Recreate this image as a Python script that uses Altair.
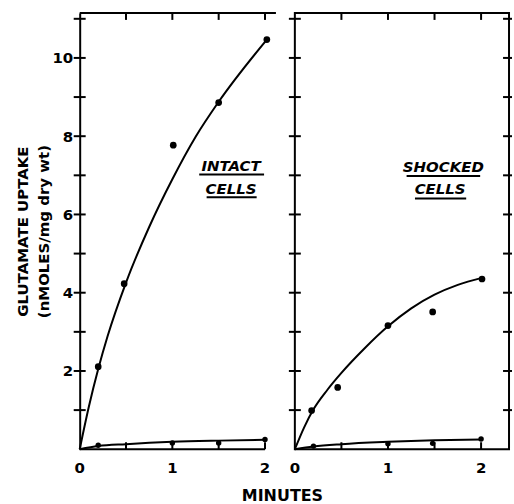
import altair as alt
import pandas as pd

FONT = "DejaVu Sans"

# ---------------- data ----------------
minute_labels = [0, 1, 2]
minute_ticks = [0.5, 1, 1.5, 2]
uptake_labels = [2, 4, 6, 8, 10]
uptake_ticks = [1, 2, 3, 4, 5, 6, 7, 8, 9, 10, 11]

# Intact cells
intact_pt_x = [0.2, 0.48, 1.01, 1.5, 2.02]
intact_pt_y = [2.11, 4.23, 7.77, 8.86, 10.47]
intact_curve_x = [0, 0.1, 0.2, 0.3, 0.5, 0.75, 1.0, 1.25, 1.5, 2.02]
intact_curve_y = [0, 1.1, 2.05, 2.88, 4.26, 5.68, 6.9, 7.98, 8.88, 10.47]
intact_ctrl_pt_x = [0.2, 1.0, 1.5, 2.0]
intact_ctrl_pt_y = [0.1, 0.16, 0.16, 0.25]
intact_ctrl_curve_x = [0, 0.2, 0.5, 1.0, 1.5, 2.0]
intact_ctrl_curve_y = [0, 0.08, 0.13, 0.19, 0.22, 0.24]

# Shocked cells
shocked_pt_x = [0.18, 0.46, 1.0, 1.48, 2.01]
shocked_pt_y = [0.99, 1.58, 3.16, 3.51, 4.35]
shocked_curve_x = [0, 0.1, 0.2, 0.35, 0.5, 0.75, 1.0, 1.25, 1.5, 1.75, 2.01]
shocked_curve_y = [0, 0.56, 1.02, 1.52, 1.95, 2.58, 3.14, 3.6, 3.95, 4.2, 4.38]
shocked_ctrl_pt_x = [0.2, 1.0, 1.48, 2.0]
shocked_ctrl_pt_y = [0.08, 0.14, 0.15, 0.26]
shocked_ctrl_curve_x = [0, 0.2, 0.5, 1.0, 1.5, 2.0]
shocked_ctrl_curve_y = [0, 0.07, 0.13, 0.19, 0.23, 0.25]

# Annotations
intact_text = ["INTACT", "CELLS"]
intact_text_x = [1.634, 1.634]
intact_text_y = [7.25, 6.66]
intact_ul_x = [1.29, 1.37]
intact_ul_x2 = [1.99, 1.91]
intact_ul_y = [7.02, 6.44]

shocked_text = ["SHOCKED", "CELLS"]
shocked_text_x = [1.594, 1.56]
shocked_text_y = [7.2, 6.64]
shocked_ul_x = [1.20, 1.29]
shocked_ul_x2 = [1.99, 1.84]
shocked_ul_y = [6.98, 6.41]

Y_MAX = 11.15
H = 438
W_LEFT, XMAX_LEFT = 197, 2.118
W_RIGHT, XMAX_RIGHT = 215, 2.3


def curves_df(ux, uy, lx, ly):
    return pd.DataFrame({
        "x": list(ux) + list(lx),
        "y": list(uy) + list(ly),
        "s": ["upper"] * len(ux) + ["lower"] * len(lx),
    })


def panel(cdf, pts, ctrl_pts, ann, ul, width, xmax, is_left):
    xs = alt.Scale(domain=[0, xmax], nice=False, zero=False)
    ys = alt.Scale(domain=[0, Y_MAX], nice=False)
    if is_left:
        y_axis = alt.Axis(values=uptake_labels, format="d", ticks=False, domain=True,
                          domainColor="black", domainWidth=2, grid=False,
                          labelFont=FONT, labelFontSize=15, labelFontWeight="bold",
                          labelColor="black", labelPadding=7, labelOverlap=False,
                          labelFlush=False, labelBound=False,
                          title=["GLUTAMATE  UPTAKE", "(nMOLES/mg dry wt)"],
                          titleFont=FONT, titleFontSize=15, titleFontWeight="bold",
                          titleColor="black", titlePadding=0, titleLineHeight=22)
    else:
        y_axis = None

    X = lambda: alt.X("x:Q", scale=xs, axis=None)
    Y = lambda: alt.Y("y:Q", scale=ys, axis=y_axis)

    lines = alt.Chart(cdf).mark_line(color="black", strokeWidth=2,
                                      interpolate="monotone").encode(
        x=X(), y=Y(), detail="s:N")
    dots = alt.Chart(pts).mark_circle(color="black", opacity=1, size=45).encode(
        x=X(), y=Y())
    cdots = alt.Chart(ctrl_pts).mark_circle(color="black", opacity=1, size=30).encode(
        x=X(), y=Y())
    txt = alt.Chart(ann).mark_text(font=FONT, fontSize=15, fontWeight="bold",
                                   fontStyle="italic", align="center",
                                   baseline="middle", color="black").encode(
        x=X(), y=Y(), text="t:N")
    uls = alt.Chart(ul).mark_rule(color="black", strokeWidth=2).encode(
        x=X(), x2="x2:Q", y=Y())

    tick_df = pd.DataFrame({"y": uptake_ticks})
    ycross = alt.Chart(tick_df).mark_rule(color="black", strokeWidth=2).encode(
        y=Y(), x=alt.value(-6), x2=alt.value(6))
    mt_df = pd.DataFrame({"x": minute_ticks})
    top_ticks = alt.Chart(mt_df).mark_rule(color="black", strokeWidth=2).encode(
        x=X(), y=alt.value(0), y2=alt.value(7))
    bot_ticks = alt.Chart(mt_df).mark_rule(color="black", strokeWidth=2).encode(
        x=X(), y=alt.value(H), y2=alt.value(H - 7))
    ml_df = pd.DataFrame({"x": minute_labels, "t": [str(v) for v in minute_labels]})
    xlabels = alt.Chart(ml_df).mark_text(font=FONT, fontSize=15, fontWeight="bold",
                                         align="center", baseline="middle",
                                         color="black").encode(
        x=X(), y=alt.value(H + 19), text="t:N")

    layers = [lines, dots, cdots, txt, uls, ycross, top_ticks, bot_ticks, xlabels]

    if is_left:
        base_df = pd.DataFrame({"x": [0], "x2": [2], "y": [0]})
        bottom_line = alt.Chart(base_df).mark_rule(color="black", strokeWidth=2).encode(
            x=X(), x2="x2:Q", y=Y())
        top_line = alt.Chart(base_df).mark_rule(color="black", strokeWidth=2).encode(
            x=alt.value(0), x2=alt.value(width), y=alt.value(0))
        layers += [bottom_line, top_line]
        ch = alt.layer(*layers).properties(width=width, height=H)
    else:
        rcross = alt.Chart(tick_df).mark_rule(color="black", strokeWidth=2).encode(
            y=Y(), x=alt.value(width - 6), x2=alt.value(width + 3))
        layers += [rcross]
        ch = alt.layer(*layers).properties(
            width=width, height=H,
            view=alt.ViewBackground(stroke="black", strokeWidth=2))
    return ch


left = panel(
    curves_df(intact_curve_x, intact_curve_y, intact_ctrl_curve_x, intact_ctrl_curve_y),
    pd.DataFrame({"x": intact_pt_x, "y": intact_pt_y}),
    pd.DataFrame({"x": intact_ctrl_pt_x, "y": intact_ctrl_pt_y}),
    pd.DataFrame({"x": intact_text_x, "y": intact_text_y, "t": intact_text}),
    pd.DataFrame({"x": intact_ul_x, "x2": intact_ul_x2, "y": intact_ul_y}),
    W_LEFT, XMAX_LEFT, True)

right = panel(
    curves_df(shocked_curve_x, shocked_curve_y, shocked_ctrl_curve_x, shocked_ctrl_curve_y),
    pd.DataFrame({"x": shocked_pt_x, "y": shocked_pt_y}),
    pd.DataFrame({"x": shocked_ctrl_pt_x, "y": shocked_ctrl_pt_y}),
    pd.DataFrame({"x": shocked_text_x, "y": shocked_text_y, "t": shocked_text}),
    pd.DataFrame({"x": shocked_ul_x, "x2": shocked_ul_x2, "y": shocked_ul_y}),
    W_RIGHT, XMAX_RIGHT, False)

chart = alt.hconcat(left, right, spacing=19, bounds="flush").properties(
    padding={"left": 15, "top": 10, "right": 0, "bottom": 0},
    background="white",
    title=alt.TitleParams(text="MINUTES", orient="bottom", anchor="middle",
                          font=FONT, fontSize=16, fontWeight="bold", color="black",
                          offset=11, dx=18),
).configure_view(stroke=None)

chart.save("out.html", embed_options={"renderer": "svg", "actions": False})
